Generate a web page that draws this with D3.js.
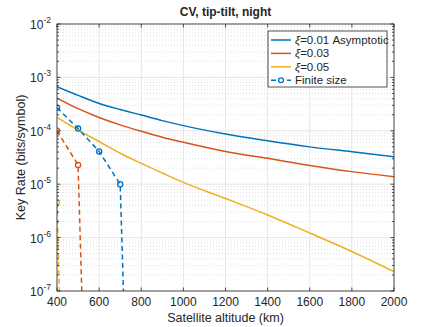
<!DOCTYPE html>
<html>
<head>
<meta charset="utf-8">
<script src="https://cdn.jsdelivr.net/npm/d3@7"></script>
<style>
    body { margin: 0; background: #fff; }
    text { font-family: "Liberation Sans", Arial, sans-serif; fill: #262626; }
    .grid line { stroke: #dfdfdf; stroke-width: 0.8; }
    .minor line { stroke: #d6d6d6; stroke-width: 0.8; stroke-dasharray: 1,2; }
</style>
</head>
<body>
<div id="chart"></div>
<script>
// altitudes (km) for asymptotic curves
const altitude = [400, 500, 600, 700, 800, 900, 1000, 1200, 1400, 1600, 1800, 2000];
const asymXi001 = [6.7e-4, 4.6e-4, 3.25e-4, 2.5e-4, 1.97e-4, 1.55e-4, 1.25e-4, 8.7e-5, 6.5e-5, 5.0e-5, 4.05e-5, 3.27e-5];
const asymXi003 = [4.1e-4, 2.6e-4, 1.78e-4, 1.29e-4, 9.8e-5, 7.6e-5, 6.1e-5, 4.1e-5, 3.05e-5, 2.25e-5, 1.72e-5, 1.38e-5];
const asymXi005 = [1.78e-4, 1.03e-4, 6.3e-5, 3.8e-5, 2.45e-5, 1.62e-5, 1.08e-5, 5.4e-6, 2.65e-6, 1.22e-6, 5.5e-7, 2.3e-7];

// finite size points (last point falls off the bottom of the axis)
const finAlt001 = [400, 500, 600, 700, 800];
const finXi001 = [2.7e-4, 1.1e-4, 4.1e-5, 1.0e-5, 1e-18];
const finAlt003 = [400, 500, 600];
const finXi003 = [1.0e-4, 2.3e-5, 1e-18];
const finAlt005 = [400, 500];
const finXi005 = [4.6e-6, 1e-20];

const xTicks = [400, 600, 800, 1000, 1200, 1400, 1600, 1800, 2000];
const yTicks = [1e-7, 1e-6, 1e-5, 1e-4, 1e-3, 1e-2];

const legendLabels = ["=0.01 Asymptotic", "=0.03", "=0.05", "Finite size"];

function init() {
    const w = 436;
    const h = 327;
    const left = 57, top = 24, right = 394, bottom = 291;
    const colors = ["#0072BD", "#D95319", "#EDB120"];

    var svg = d3.select("#chart").append("svg").attr("width", w).attr("height", h);

    var xScale = d3.scaleLinear().domain([400, 2000]).range([left, right]);
    var yScale = d3.scaleLog().domain([1e-7, 1e-2]).range([bottom, top]);

    // minor horizontal grid
    var minorVals = [];
    for (var e = -7; e < -2; e++) {
        for (var m = 2; m <= 9; m++) minorVals.push(m * Math.pow(10, e));
    }
    svg.append("g").attr("class", "minor")
        .selectAll("line").data(minorVals).enter().append("line")
        .attr("x1", left).attr("x2", right)
        .attr("y1", (d) => { return yScale(d) }).attr("y2", (d) => { return yScale(d) });

    // major grid
    var grid = svg.append("g").attr("class", "grid");
    grid.selectAll(".gx").data(xTicks).enter().append("line")
        .attr("x1", (d) => { return xScale(d) }).attr("x2", (d) => { return xScale(d) })
        .attr("y1", top).attr("y2", bottom);
    grid.selectAll(".gy").data(yTicks).enter().append("line")
        .attr("x1", left).attr("x2", right)
        .attr("y1", (d) => { return yScale(d) }).attr("y2", (d) => { return yScale(d) });

    // clip for data
    svg.append("clipPath").attr("id", "clip").append("rect")
        .attr("x", left).attr("y", top).attr("width", right - left).attr("height", bottom - top);

    var plot = svg.append("g").attr("clip-path", "url(#clip)");

    var line = d3.line()
        .x((d) => { return xScale(d[0]) })
        .y((d) => { return yScale(d[1]) })
        .curve(d3.curveMonotoneX);

    var asym = [asymXi001, asymXi003, asymXi005];
    asym.forEach((vals, i) => {
        plot.append("path")
            .datum(altitude.map((a, j) => [a, vals[j]]))
            .attr("fill", "none")
            .attr("stroke", colors[i])
            .attr("stroke-width", 1.5)
            .attr("d", line);
    });

    var straight = d3.line()
        .x((d) => { return xScale(d[0]) })
        .y((d) => { return yScale(d[1]) });

    var fin = [[finAlt001, finXi001], [finAlt003, finXi003], [finAlt005, finXi005]];
    fin.forEach((f, i) => {
        var pts = f[0].map((a, j) => [a, f[1][j]]);
        plot.append("path")
            .datum(pts)
            .attr("fill", "none")
            .attr("stroke", colors[i])
            .attr("stroke-width", 1.5)
            .attr("stroke-dasharray", "5,3.5")
            .attr("d", straight);
        plot.selectAll(".m" + i).data(pts.filter((d) => d[1] > 1e-7)).enter().append("circle")
            .attr("cx", (d) => { return xScale(d[0]) })
            .attr("cy", (d) => { return yScale(d[1]) })
            .attr("r", 2.6)
            .attr("fill", "none")
            .attr("stroke", colors[i])
            .attr("stroke-width", 1.3);
    });

    // axes box
    var axisColor = "#262626";
    svg.append("rect")
        .attr("x", left).attr("y", top).attr("width", right - left).attr("height", bottom - top)
        .attr("fill", "none").attr("stroke", axisColor).attr("stroke-width", 0.8);

    // ticks (inside, all four sides)
    var ticks = svg.append("g").attr("stroke", axisColor).attr("stroke-width", 0.8);
    xTicks.forEach((t) => {
        var x = xScale(t);
        ticks.append("line").attr("x1", x).attr("x2", x).attr("y1", bottom).attr("y2", bottom - 3.5);
        ticks.append("line").attr("x1", x).attr("x2", x).attr("y1", top).attr("y2", top + 3.5);
    });
    yTicks.forEach((t) => {
        var y = yScale(t);
        ticks.append("line").attr("x1", left).attr("x2", left + 3.5).attr("y1", y).attr("y2", y);
        ticks.append("line").attr("x1", right).attr("x2", right - 3.5).attr("y1", y).attr("y2", y);
    });
    minorVals.forEach((t) => {
        var y = yScale(t);
        ticks.append("line").attr("x1", left).attr("x2", left + 2).attr("y1", y).attr("y2", y);
        ticks.append("line").attr("x1", right).attr("x2", right - 2).attr("y1", y).attr("y2", y);
    });

    // tick labels
    svg.append("g").selectAll("text").data(xTicks).enter().append("text")
        .attr("x", (d) => { return xScale(d) })
        .attr("y", bottom + 15)
        .attr("text-anchor", "middle")
        .attr("font-size", 12)
        .text((d) => { return d });

    var yl = svg.append("g").selectAll("text").data(yTicks).enter().append("text")
        .attr("x", left - 6)
        .attr("y", (d) => { return yScale(d) + 5 })
        .attr("text-anchor", "end")
        .attr("font-size", 12);
    yl.append("tspan").text("10");
    yl.append("tspan").attr("dy", -6).attr("font-size", 8.5)
        .text((d) => { return "-" + Math.round(-Math.log10(d)) });

    // titles
    svg.append("text")
        .attr("x", (left + right) / 2).attr("y", 16)
        .attr("text-anchor", "middle")
        .attr("font-size", 12).attr("font-weight", "bold")
        .attr("fill", "#000")
        .text("CV, tip-tilt, night");

    svg.append("text")
        .attr("x", (left + right) / 2).attr("y", 322)
        .attr("text-anchor", "middle")
        .attr("font-size", 12.5)
        .text("Satellite altitude (km)");

    svg.append("text")
        .attr("transform", "translate(25," + ((top + bottom) / 2) + ") rotate(-90)")
        .attr("text-anchor", "middle")
        .attr("font-size", 12.5)
        .text("Key Rate (bits/symbol)");

    // legend
    var lg = svg.append("g");
    lg.append("rect")
        .attr("x", 268).attr("y", 31).attr("width", 119).attr("height", 56)
        .attr("fill", "#fff").attr("stroke", axisColor).attr("stroke-width", 0.8);
    legendLabels.forEach((lab, i) => {
        var y = 40 + i * 13.4;
        var c = i < 3 ? colors[i] : colors[0];
        lg.append("line")
            .attr("x1", 271).attr("x2", 291).attr("y1", y).attr("y2", y)
            .attr("stroke", c).attr("stroke-width", 1.5)
            .attr("stroke-dasharray", i === 3 ? "5,3" : null);
        if (i === 3) {
            lg.append("circle").attr("cx", 281).attr("cy", y).attr("r", 2.4)
                .attr("fill", "#fff").attr("stroke", c).attr("stroke-width", 1.3);
        }
        var t = lg.append("text").attr("x", 295).attr("y", y + 4).attr("font-size", 11.5);
        if (i < 3) {
            t.append("tspan").attr("font-style", "italic").text("ξ");
        }
        t.append("tspan").text(lab);
    });
}

window.onload = init();
</script>
</body>
</html>
